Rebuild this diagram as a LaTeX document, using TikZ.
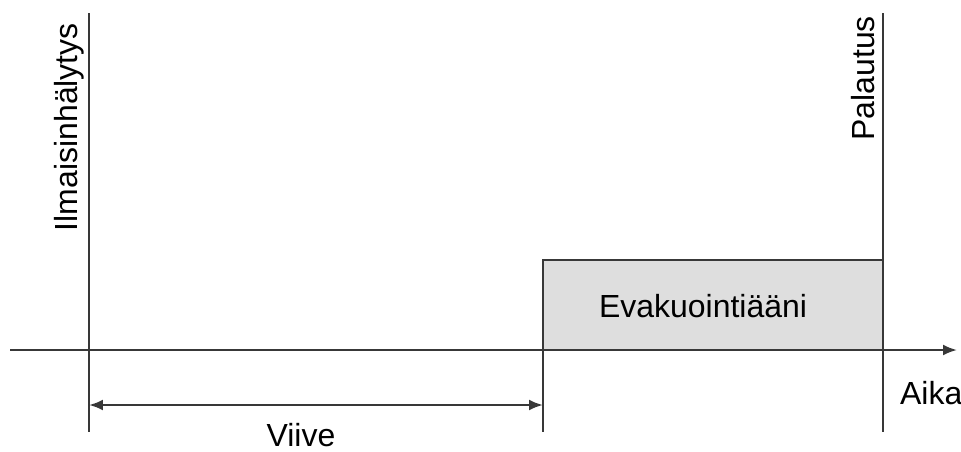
\documentclass[tikz,border=0pt]{standalone}
\usepackage{fontspec}
\setmainfont{Liberation Sans}
\usetikzlibrary{arrows.meta,positioning}

\begin{document}
\begin{tikzpicture}[x=0.02cm, y=-0.02cm, line width=1.3pt,
  every node/.style={font=\fontsize{18.2}{22}\selectfont},
  timeline/.style={draw=black!78},
  tip/.style={-{Latex[length=0.28cm, width=0.22cm]}},
  rotlabel/.style={rotate=90, anchor=base east, inner sep=0pt}]
\useasboundingbox (0,0) rectangle (961,451);

% Evacuation tone box
\draw[timeline, fill=black!13] (543,260) rectangle (883,350);
\node (sound) at (703,306) {Evakuointiääni};

% Event points
\coordinate (alarm top) at (89,13);
\coordinate (alarm bot) at (89,432);
\coordinate (tone top) at (543,260);
\coordinate (tone bot) at (543,432);
\coordinate (reset top) at (883,13);
\coordinate (reset bot) at (883,432);
\coordinate (axis start) at (10,350);
\coordinate (axis end) at (957,350);
\coordinate (delay start) at (89,405);
\coordinate (delay end) at (543,405);

% Time axis and vertical markers
\draw[timeline, tip] (axis start) -- (axis end);
\draw[timeline] (alarm top) -- (alarm bot);
\draw[timeline] (tone top) -- (tone bot);
\draw[timeline] (reset top) -- (reset bot);

% Delay span
\draw[timeline, {Latex[length=0.28cm, width=0.22cm]}-{Latex[length=0.28cm, width=0.22cm]}] (delay start) -- (delay end);

% Labels
\node[rotlabel] (alarm) at (77,22) {Ilmaisinhälytys};
\node[rotlabel] (reset) at (874,15) {Palautus};
\node[anchor=base west, inner sep=0pt] (time) at (899,404) {Aika};
\node[anchor=base, inner sep=0pt] (delay) at (301,446) {Viive};

\end{tikzpicture}
\end{document}
